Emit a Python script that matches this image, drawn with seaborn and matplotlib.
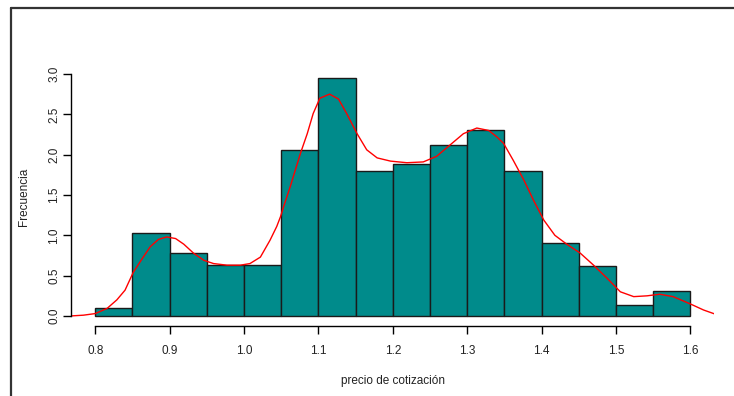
import numpy as np
import pandas as pd
import seaborn as sns
import matplotlib
matplotlib.use("Agg")
import matplotlib.pyplot as plt
from matplotlib.lines import Line2D

# Histogram (density scale)
bin_edges = [0.80, 0.85, 0.90, 0.95, 1.00, 1.05, 1.10, 1.15, 1.20,
             1.25, 1.30, 1.35, 1.40, 1.45, 1.50, 1.55, 1.60]
bin_heights = [0.10, 1.03, 0.78, 0.63, 0.63, 2.06, 2.95, 1.80,
               1.88, 2.12, 2.30, 1.80, 0.90, 0.62, 0.14, 0.31]

# Density curve
dens_x = [0.760, 0.766, 0.784, 0.800, 0.816, 0.829, 0.840, 0.851, 0.863,
          0.874, 0.885, 0.896, 0.908, 0.919, 0.932, 0.946, 0.959, 0.977,
          0.995, 1.008, 1.022, 1.035, 1.044, 1.049, 1.053, 1.062, 1.076,
          1.085, 1.093, 1.102, 1.115, 1.127, 1.138, 1.152, 1.165, 1.179,
          1.197, 1.219, 1.241, 1.259, 1.277, 1.295, 1.313, 1.329, 1.340,
          1.349, 1.362, 1.376, 1.389, 1.403, 1.418, 1.434, 1.452, 1.470,
          1.488, 1.506, 1.524, 1.542, 1.559, 1.577, 1.600, 1.618, 1.633,
          1.640]
dens_y = [0.00, 0.00, 0.01, 0.03, 0.095, 0.20, 0.32, 0.54, 0.71,
          0.86, 0.95, 0.98, 0.96, 0.89, 0.78, 0.69, 0.65, 0.63,
          0.63, 0.65, 0.73, 0.94, 1.11, 1.23, 1.35, 1.60, 2.02,
          2.26, 2.51, 2.70, 2.75, 2.69, 2.51, 2.26, 2.06, 1.96,
          1.92, 1.90, 1.91, 1.98, 2.12, 2.26, 2.33, 2.30, 2.22,
          2.14, 1.93, 1.69, 1.44, 1.19, 1.00, 0.89, 0.78, 0.63,
          0.47, 0.30, 0.24, 0.25, 0.27, 0.24, 0.15, 0.074, 0.025,
          0.015]

y_ticks = [0.0, 0.5, 1.0, 1.5, 2.0, 2.5, 3.0]
x_ticks = [0.8, 0.9, 1.0, 1.1, 1.2, 1.3, 1.4, 1.5, 1.6]

sns.set_style("white")
plt.rcParams['font.family'] = ['Liberation Sans', 'DejaVu Sans']

fig = plt.figure(figsize=(7.34, 3.96), dpi=100)
ax = fig.add_axes([0.0974, 0.178, 0.8754, 0.649])

centers = [(a + b) / 2 for a, b in zip(bin_edges[:-1], bin_edges[1:])]
sns.histplot(x=centers, weights=bin_heights, bins=bin_edges, ax=ax,
             color="#008B8B", alpha=1.0, edgecolor="#1a1a1a", linewidth=1.0,
             stat="count")

df = pd.DataFrame({"x": dens_x, "y": dens_y})
sns.lineplot(data=df, x="x", y="y", ax=ax, color="#FF0000", linewidth=1.0,
             sort=False, estimator=None)

ax.set_xlim(0.768, 1.632)
ax.set_ylim(-0.118, 3.068)

for s in ["top", "right"]:
    ax.spines[s].set_visible(False)
for s in ["left", "bottom"]:
    ax.spines[s].set_visible(True)
    ax.spines[s].set_color("black")
    ax.spines[s].set_linewidth(1.0)
ax.spines["left"].set_bounds(0.0, 3.0)
ax.spines["bottom"].set_bounds(0.8, 1.6)

ax.set_xticks(x_ticks)
ax.set_xticklabels([f"{v:.1f}" for v in x_ticks])
ax.set_yticks(y_ticks)
ax.set_yticklabels([f"{v:.1f}" for v in y_ticks], rotation=90, va="center")
ax.tick_params(axis="both", direction="out", length=6, width=1.0,
               color="black", labelsize=8.5, labelcolor="#222222", pad=2,
               bottom=True, left=True)
ax.tick_params(axis="x", pad=8)

ax.set_xlabel("precio de cotización", fontsize=8.5, labelpad=13, color="#222222")
ax.set_ylabel("Frecuencia", fontsize=8.5, labelpad=13, color="#222222")
ax.grid(False)

# outer frame lines (top and left)
fig.add_artist(Line2D([11/734, 1.0], [1 - 8/396, 1 - 8/396],
                      transform=fig.transFigure, color="#333333", linewidth=1.6))
fig.add_artist(Line2D([11/734, 11/734], [0.0, 1 - 8/396],
                      transform=fig.transFigure, color="#333333", linewidth=1.6))

fig.savefig("out.png", dpi=100)
